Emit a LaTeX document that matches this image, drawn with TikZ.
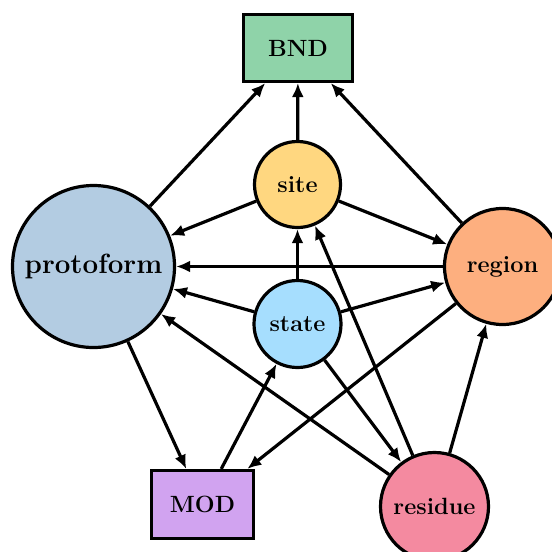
\documentclass[tikz,border=0pt]{standalone}
\usetikzlibrary{arrows.meta}
\definecolor{cBND}{HTML}{8FD3A9}
\definecolor{cSite}{HTML}{FFD780}
\definecolor{cProto}{HTML}{B3CCE2}
\definecolor{cRegion}{HTML}{FDAF7F}
\definecolor{cState}{HTML}{A6DEFE}
\definecolor{cMOD}{HTML}{D1A3F0}
\definecolor{cResidue}{HTML}{F48AA0}
\tikzset{
  base/.style={draw=black, line width=3.2pt, inner sep=0pt, font=\fontsize{23.5}{28}\selectfont\bfseries},
  boxnode/.style={base, rectangle},
  circnode/.style={base, circle},
  edge/.style={line width=3.2pt, -{Latex[length=14pt,width=12pt]}}
}
\begin{document}
\begin{tikzpicture}[x=1pt,y=-1pt]
\useasboundingbox (0,0) rectangle (552,552);
\node[boxnode, fill=cBND, minimum width=109pt, minimum height=67pt] (bnd) at (298,48) {BND};
\node[circnode, fill=cSite, minimum size=86pt] (site) at (297.5,184.5) {site};
\node[circnode, fill=cProto, minimum size=162pt, font=\fontsize{27.8}{32}\selectfont\bfseries] (proto) at (93.5,266.5) {protoform};
\node[circnode, fill=cRegion, minimum size=116pt] (region) at (502.5,266.5) {region};
\node[circnode, fill=cState, minimum size=87pt] (state) at (297.5,324) {state};
\node[boxnode, fill=cMOD, minimum width=102pt, minimum height=68pt] (mod) at (202.5,504.5) {MOD};
\node[circnode, fill=cResidue, minimum size=108pt] (residue) at (434.5,506.5) {residue};

\draw[edge] (proto) -- (bnd);
\draw[edge] (site) -- (bnd);
\draw[edge] (region) -- (bnd);
\draw[edge] (site) -- (proto);
\draw[edge] (site) -- (region);
\draw[edge] (region) -- (proto);
\draw[edge] (state) -- (site);
\draw[edge] (state) -- (proto);
\draw[edge] (state) -- (region);
\draw[edge] (region) -- (mod);
\draw[edge] (proto) -- (mod);
\draw[edge] (mod) -- (state);
\draw[edge] (state) -- (residue);
\draw[edge] (residue) -- (site);
\draw[edge] (residue) -- (proto);
\draw[edge] (residue) -- (region);
\end{tikzpicture}
\end{document}
